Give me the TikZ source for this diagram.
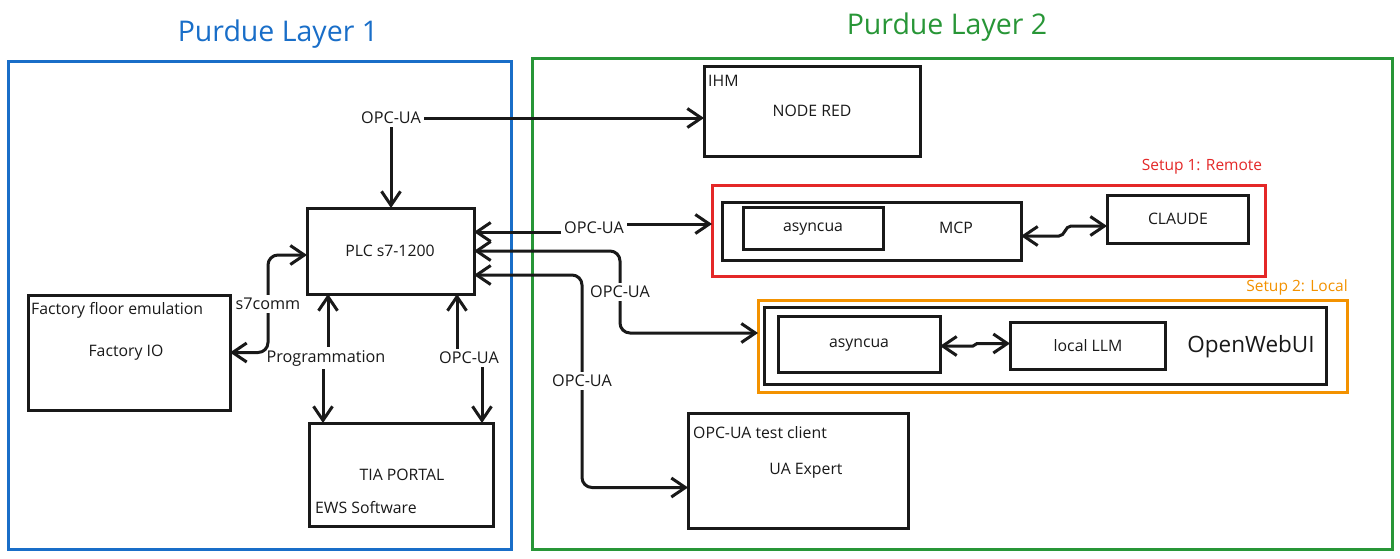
\documentclass[tikz,border=0pt]{standalone}
\usepackage{fontspec}
\setmainfont{Open Sans}
\usetikzlibrary{arrows.meta,calc}
\definecolor{lblue}{RGB}{25,110,200}
\definecolor{lgreen}{RGB}{40,150,55}
\definecolor{lred}{RGB}{228,40,40}
\definecolor{lorange}{RGB}{243,146,0}
\definecolor{ink}{RGB}{25,25,25}
\begin{document}
\begin{tikzpicture}[x=1pt,y=-1pt,
  box/.style={draw=ink,line width=3pt,inner sep=0,outer sep=0},
  frame/.style={line width=3pt,inner sep=0,outer sep=0},
  txt/.style={font=\fontsize{15.8}{18}\selectfont,text=ink,inner sep=1pt},
  lbl/.style={font=\fontsize{16.2}{18}\selectfont,text=ink,inner sep=3pt},
  arr/.style={draw=ink,line width=3pt,-{Straight Barb[length=14pt,width=19pt]}},
  darr/.style={draw=ink,line width=3pt,{Straight Barb[length=14pt,width=19pt]}-{Straight Barb[length=14pt,width=19pt]}},
  rc/.style={rounded corners=10pt}]
\useasboundingbox (0,0) rectangle (1400,558);
\fill[white] (0,0) rectangle (1400,558);
% layer frames
\node[frame,draw=lblue,minimum width=503,minimum height=488] (l1) at (259.5,305) {};
\node[frame,draw=lgreen,minimum width=860,minimum height=491] (l2) at (962,303.5) {};
\node[font=\fontsize{28.5}{32}\selectfont,text=lblue] (t1) at (278,34) {Purdue Layer 1};
\node[font=\fontsize{28.5}{32}\selectfont,text=lgreen] (t2) at (947,27) {Purdue Layer 2};
% setup frames
\node[frame,draw=lred,minimum width=553,minimum height=91] (s1) at (988.5,230.5) {};
\node[frame,draw=lorange,minimum width=589,minimum height=92] (s2) at (1052.5,346) {};
\node[font=\fontsize{15.5}{18}\selectfont,text=lred] (s1t) at (1202,167) {Setup 1: Remote};
\node[font=\fontsize{15.5}{18}\selectfont,text=lorange] (s2t) at (1297,287) {Setup 2: Local};
% boxes
\node[box,minimum width=216,minimum height=90] (nodered) at (812,111) {};
\node[box,minimum width=167,minimum height=86] (plc) at (390.5,251) {};
\node[box,minimum width=202,minimum height=115] (factory) at (129,352.5) {};
\node[box,minimum width=184,minimum height=103] (tia) at (401,474.5) {};
\node[box,minimum width=299,minimum height=58] (mcp) at (871.5,231) {};
\node[box,minimum width=140,minimum height=42] (as1) at (813,228) {};
\node[box,minimum width=141,minimum height=48] (claude) at (1177.5,219) {};
\node[box,minimum width=562,minimum height=77] (owui) at (1045,345.5) {};
\node[box,minimum width=162,minimum height=56] (as2) at (859,344) {};
\node[box,minimum width=155,minimum height=47] (llm) at (1087.5,345.5) {};
\node[box,minimum width=220,minimum height=115] (uax) at (798,470.5) {};
% box texts
\node[txt,anchor=west] (ihm) at (707,81) {IHM};
\node[txt] (nrt) at (812,111) {NODE RED};
\node[txt] (plct) at (390,251) {PLC s7-1200};
\node[txt,anchor=west] (fft) at (30,310) {Factory floor emulation};
\node[txt] (fiot) at (126,353) {Factory IO};
\node[txt] (tiat) at (402,475) {TIA PORTAL};
\node[txt,anchor=west] (ewst) at (314,508) {EWS Software};
\node[txt] (as1t) at (813,229) {asyncua};
\node[txt] (mcpt) at (956,228) {MCP};
\node[txt] (claudet) at (1178,219) {CLAUDE};
\node[txt] (as2t) at (859,345) {asyncua};
\node[txt] (llmt) at (1088,346) {local LLM};
\node[font=\fontsize{22.5}{26}\selectfont,text=ink] (owuit) at (1251,347) {OpenWebUI};
\node[txt,anchor=west] (uact) at (692,433) {OPC-UA test client};
\node[txt] (uaxt) at (806,471) {UA Expert};
% connector labels
\node[lbl] (ltop) at (391,118) {OPC-UA};
\node[lbl] (l1a) at (594,228) {OPC-UA};
\node[lbl] (l2a) at (620,292) {OPC-UA};
\node[lbl] (l3a) at (582,381) {OPC-UA};
\node[lbl] (s7) at (268,304) {s7comm};
\node[lbl] (prog) at (326,358) {Programmation};
\node[lbl] (l4a) at (469,358) {OPC-UA};
% connectors
\draw[arr] (ltop.east) -- (ltop.east -| nodered.west);
\draw[arr] (ltop.south) -- (ltop.south |- plc.north);
\draw[arr] ([yshift=-4pt]l1a.west) -- ([yshift=-4pt]l1a.west -| plc.east);
\draw[arr] ([yshift=4pt]l1a.east) -- ([yshift=4pt]l1a.east -| s1.west);
\draw[arr,rc] (l2a.north) |- (plc.east);
\draw[arr,rc] (l2a.south) |- ([yshift=13pt]s2.west);
\draw[arr,rc] (l3a.north) |- ([yshift=-24pt]plc.east);
\draw[arr,rc] (l3a.south) |- ([yshift=-17pt]uax.west);
\draw[arr,rc] (s7.north) |- ([yshift=-4pt]plc.west);
\draw[arr,rc] (s7.south) |- (factory.east);
\draw[arr] ([xshift=2pt]prog.north) -- ([xshift=2pt]prog.north |- plc.south);
\draw[arr] ([xshift=-3pt]prog.south) -- ([xshift=-3pt]prog.south |- tia.north);
\draw[arr] ([xshift=-12pt]l4a.north) -- ([xshift=-12pt]l4a.north |- plc.south);
\draw[arr] ([xshift=13pt]l4a.south) -- ([xshift=13pt]l4a.south |- tia.north);
\draw[darr] ([yshift=-5pt]mcp.east) -- ++(38,0) .. controls +(6,0) and +(-6,0) .. ([xshift=-36pt,yshift=-7pt]claude.west) -- ([yshift=-7pt]claude.west);
\draw[darr] ([yshift=-2pt]as2.east) -- ++(33,0) -- ([xshift=-33pt,yshift=2pt]llm.west) -- ([yshift=2pt]llm.west);
\end{tikzpicture}
\end{document}
